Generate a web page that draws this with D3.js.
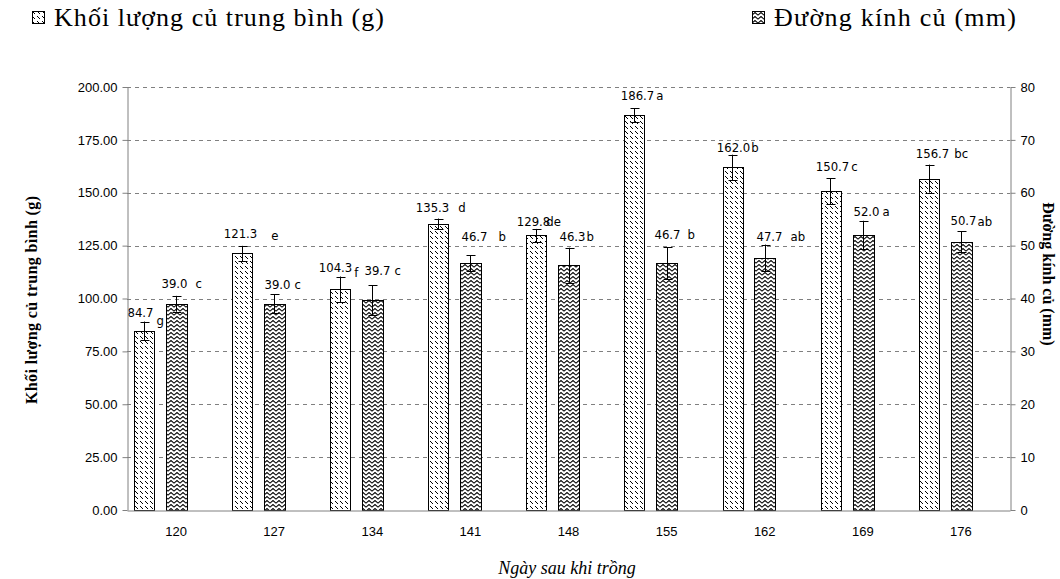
<!DOCTYPE html>
<html>
<head>
<meta charset="utf-8">
<script src="https://cdn.jsdelivr.net/npm/d3@7"></script>
<style>
  body { margin: 0; background: #fff; }
  svg { display: block; }
</style>
</head>
<body>
<div id="chart"></div>
<script>
const width = 1060;
const height = 579;
const margin = { top: 87, right: 50, bottom: 69, left: 127 };

// data
const days = ["120", "127", "134", "141", "148", "155", "162", "169", "176"];
const massValues = [84.7, 121.3, 104.3, 135.3, 129.8, 186.7, 162.0, 150.7, 156.7];
const massErrors = [4.4, 3.6, 6.1, 2.5, 3.1, 3.2, 6.0, 6.1, 6.6];
const massLetters = ["g", "e", "f", "d", "de", "a", "b", "c", "bc"];
const diamValues = [39.0, 39.0, 39.7, 46.7, 46.3, 46.7, 47.7, 52.0, 50.7];
const diamErrors = [1.5, 1.8, 2.8, 1.5, 3.3, 3.0, 2.5, 2.7, 2.0];
const diamLetters = ["c", "c", "c", "b", "b", "b", "ab", "a", "ab"];
const massTicks = [0, 25, 50, 75, 100, 125, 150, 175, 200];
const diamTicks = [0, 10, 20, 30, 40, 50, 60, 70, 80];

// hand placed label tweaks: [number dx, gap before letter, letter drop, lift above cap]
const massLabelNudge = [[-4, 3, 8, 5], [-2, 14, 2, 8], [-5, 2, 5, 5], [-6, 9, 0, 7], [-3, -4, 0, 3],
  [3, 2, 0, 8], [1, 1, 0, 3], [2, 2, 0, 7], [3, 5, 0, 7]];
const diamLabelNudge = [[-2, 8, 0, 8], [3, 4, 0, 5], [5, 4, 0, 10], [4, 11, 0, 14], [3, 1, 0, 7],
  [0, 7, 0, 8], [4, 8, 0, 4], [3, 3, 0, 5], [2, 1, 1, 6]];

const innerW = width - margin.left - margin.right;
const innerH = height - margin.top - margin.bottom;

const svg = d3.select("#chart").append("svg")
  .attr("width", width)
  .attr("height", height)
  .style("background", "#fff");

const defs = svg.append("defs");

// dashed downward diagonal
const p1 = defs.append("pattern")
  .attr("id", "patMass")
  .attr("patternUnits", "userSpaceOnUse")
  .attr("width", 5).attr("height", 5);
p1.append("rect").attr("width", 5).attr("height", 5).attr("fill", "#fff");
[[0, 1], [1, 2], [2, 3]].forEach(([px, py]) =>
  p1.append("rect").attr("x", px).attr("y", py).attr("width", 1).attr("height", 1).attr("fill", "#000"));

// herringbone weave
const p2 = defs.append("pattern")
  .attr("id", "patDiam")
  .attr("patternUnits", "userSpaceOnUse")
  .attr("width", 6).attr("height", 4);
p2.append("rect").attr("width", 6).attr("height", 4).attr("fill", "#fff");
p2.append("path")
  .attr("d", "M-1,4 L3,0.5 L7,4")
  .attr("fill", "none")
  .attr("stroke", "#000")
  .attr("stroke-width", 1.1);

const x = d3.scaleBand().domain(days).range([margin.left, margin.left + innerW]).padding(0);
const yL = d3.scaleLinear().domain([0, 200]).range([margin.top + innerH, margin.top]);
const yR = d3.scaleLinear().domain([0, 80]).range([margin.top + innerH, margin.top]);
const bw = x.bandwidth();

// grid
svg.append("g")
  .selectAll("line")
  .data(massTicks.filter((d) => d > 0))
  .join("line")
  .attr("x1", margin.left)
  .attr("x2", margin.left + innerW)
  .attr("y1", (d) => Math.round(yL(d)) + 0.5)
  .attr("y2", (d) => Math.round(yL(d)) + 0.5)
  .attr("stroke", "#808080")
  .attr("stroke-dasharray", "4,4");

const series = [
  { values: massValues, errors: massErrors, letters: massLetters, nudge: massLabelNudge,
    y: yL, pat: "url(#patMass)", off: 0.07, w: 0.2 },
  { values: diamValues, errors: diamErrors, letters: diamLetters, nudge: diamLabelNudge,
    y: yR, pat: "url(#patDiam)", off: 0.395, w: 0.21 },
];
const fmt = d3.format(".1f");
const labelFont = "'Liberation Sans Narrow', 'DejaVu Sans Condensed', 'Liberation Sans', sans-serif";

series.forEach((s) => {
  const rows = days.map((day, i) => ({ day, v: s.values[i], e: s.errors[i], l: s.letters[i], n: s.nudge[i] }));
  const g = svg.append("g");

  g.selectAll("rect")
    .data(rows)
    .join("rect")
    .attr("x", (d) => Math.round(x(d.day) + bw * s.off) + 0.5)
    .attr("y", (d) => Math.round(s.y(d.v)) + 0.5)
    .attr("width", Math.round(bw * s.w))
    .attr("height", (d) => Math.round(s.y(0)) - Math.round(s.y(d.v)))
    .attr("fill", s.pat)
    .attr("stroke", "#000")
    .attr("stroke-width", 1);

  const cx = (d) => Math.round(x(d.day) + bw * s.off + (bw * s.w) / 2) + 0.5;

  const err = g.selectAll(".err").data(rows).join("g").attr("class", "err");
  err.append("line")
    .attr("x1", cx).attr("x2", cx)
    .attr("y1", (d) => s.y(d.v + d.e))
    .attr("y2", (d) => s.y(d.v - d.e))
    .attr("stroke", "#000");
  [1, -1].forEach((k) => {
    err.append("line")
      .attr("x1", (d) => cx(d) - 4).attr("x2", (d) => cx(d) + 5)
      .attr("y1", (d) => Math.round(s.y(d.v + k * d.e)) + 0.5)
      .attr("y2", (d) => Math.round(s.y(d.v + k * d.e)) + 0.5)
      .attr("stroke", "#000");
  });

  const lab = g.selectAll(".lab").data(rows).join("g").attr("class", "lab");
  lab.each(function (d) {
    const [dx, gap, drop, lift] = d.n;
    const base = s.y(d.v + d.e) - lift;
    const num = d3.select(this).append("text")
      .attr("x", cx(d) + dx)
      .attr("y", base)
      .attr("text-anchor", "middle")
      .attr("font-family", labelFont)
      .attr("font-size", 13)
      .text(fmt(d.v));
    const w = num.node().getComputedTextLength();
    d3.select(this).append("text")
      .attr("x", cx(d) + dx + w / 2 + gap)
      .attr("y", base + drop)
      .attr("font-family", labelFont)
      .attr("font-size", 13)
      .text(d.l);
  });
});

// axes
const tickFont = (sel) => sel.selectAll("text")
  .attr("fill", "#000")
  .attr("font-family", "'Liberation Sans', Arial, sans-serif")
  .attr("font-size", 13);

const axL = svg.append("g")
  .attr("transform", `translate(${margin.left + 0.5},0)`)
  .call(d3.axisLeft(yL).tickValues(massTicks).tickFormat(d3.format(".2f")).tickSize(5).tickSizeOuter(0).tickPadding(5));
axL.selectAll("path, line").attr("stroke", "#808080");
tickFont(axL);

const axR = svg.append("g")
  .attr("transform", `translate(${margin.left + innerW + 0.5},0)`)
  .call(d3.axisRight(yR).tickValues(diamTicks).tickFormat(d3.format("d")).tickSize(5).tickSizeOuter(0).tickPadding(5));
axR.selectAll("path, line").attr("stroke", "#808080");
tickFont(axR);

const axB = svg.append("g")
  .attr("transform", `translate(0,${margin.top + innerH + 0.5})`)
  .call(d3.axisBottom(x).tickSize(0).tickSizeOuter(0).tickPadding(16));
axB.selectAll("path").attr("stroke", "#808080");
tickFont(axB);

// axis titles
const serif = "'Liberation Serif', 'Times New Roman', serif";
svg.append("text")
  .attr("transform", `translate(37,300) rotate(-90)`)
  .attr("text-anchor", "middle")
  .attr("font-family", serif)
  .attr("font-weight", "bold")
  .attr("font-size", 16)
  .attr("textLength", 208)
  .attr("lengthAdjust", "spacing")
  .text("Khối lượng củ trung bình (g)");

svg.append("text")
  .attr("transform", `translate(1043,274) rotate(90)`)
  .attr("text-anchor", "middle")
  .attr("font-family", serif)
  .attr("font-weight", "bold")
  .attr("font-size", 16)
  .text("Đường kính củ (mm)");

svg.append("text")
  .attr("x", 567)
  .attr("y", 574)
  .attr("text-anchor", "middle")
  .attr("font-family", serif)
  .attr("font-style", "italic")
  .attr("font-size", 18)
  .text("Ngày sau khi trồng");

// legend
const legendItems = [
  { label: "Khối lượng củ trung bình (g)", pat: "url(#patMass)", x: 32, len: 330 },
  { label: "Đường kính củ (mm)", pat: "url(#patDiam)", x: 752, len: 242 },
];
const leg = svg.append("g").selectAll("g").data(legendItems).join("g")
  .attr("transform", (d) => `translate(${d.x},0)`);
leg.append("rect")
  .attr("x", 0.5).attr("y", 11.5)
  .attr("width", 12).attr("height", 12)
  .attr("fill", (d) => d.pat)
  .attr("stroke", "#000");
leg.append("text")
  .attr("x", 22)
  .attr("y", 26)
  .attr("font-family", serif)
  .attr("font-size", 26)
  .attr("textLength", (d) => d.len)
  .attr("lengthAdjust", "spacing")
  .text((d) => d.label);
</script>
</body>
</html>
